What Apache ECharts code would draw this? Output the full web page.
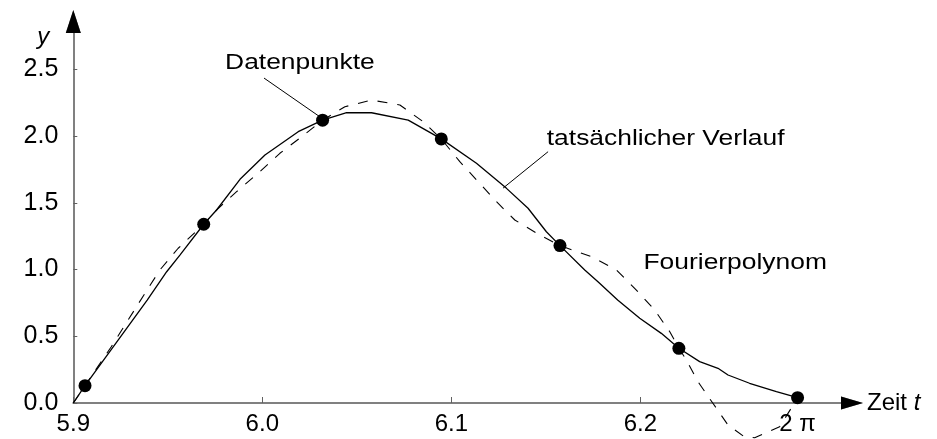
<!DOCTYPE html>
<html><head><meta charset="utf-8">
<script src="https://cdn.jsdelivr.net/npm/echarts@6/dist/echarts.min.js"></script>
<style>html,body{margin:0;padding:0;background:#fff}#c{width:937px;height:439px}</style>
</head><body><div id="c"></div>
<script>
// ---- data ----
const pointT = [5.9062, 5.9690, 6.0319, 6.0947, 6.1575, 6.2204, 6.2832];
const pointY = [0.13, 1.34, 2.12, 1.98, 1.18, 0.41, 0.04];

const actualT = [5.9, 5.9062, 5.9391, 5.9494, 5.9564, 5.9690, 5.9758, 5.9882, 6.0014, 6.0190, 6.0319, 6.0446, 6.0578, 6.0772, 6.0947, 6.1133, 6.1292, 6.1406, 6.1503, 6.1575, 6.1706, 6.1776, 6.1880, 6.1997, 6.2111, 6.2204, 6.2314, 6.2411, 6.2464, 6.2578, 6.2720, 6.2832];
const actualY = [0.0, 0.13, 0.772, 0.984, 1.109, 1.34, 1.447, 1.677, 1.859, 2.034, 2.12, 2.176, 2.176, 2.121, 1.98, 1.797, 1.609, 1.46, 1.284, 1.18, 0.997, 0.909, 0.772, 0.635, 0.522, 0.41, 0.31, 0.26, 0.21, 0.148, 0.085, 0.04];

const fourierT = [5.9, 5.9062, 5.9200, 5.9379, 5.9458, 5.9555, 5.9690, 5.9758, 5.9864, 5.9987, 6.0093, 6.0208, 6.0319, 6.0437, 6.0578, 6.0728, 6.0851, 6.0947, 6.1045, 6.1142, 6.1239, 6.1336, 6.1468, 6.1575, 6.1741, 6.1874, 6.1970, 6.2076, 6.2156, 6.2204, 6.2244, 6.2305, 6.2384, 6.2464, 6.2552, 6.2605, 6.2737, 6.2806, 6.2832];
const fourierY = [0.0, 0.13, 0.42, 0.822, 0.997, 1.16, 1.34, 1.447, 1.584, 1.734, 1.872, 1.996, 2.12, 2.221, 2.271, 2.234, 2.109, 1.98, 1.809, 1.659, 1.509, 1.372, 1.259, 1.18, 1.097, 0.997, 0.86, 0.697, 0.534, 0.41, 0.322, 0.16, -0.002, -0.165, -0.255, -0.26, -0.178, -0.022, 0.04];

const xTickValues = [5.9, 6.0, 6.1, 6.2, 6.2832];
const xTickLabels = ['5.9', '6.0', '6.1', '6.2', '2 π'];
const yTickValues = [0, 0.5, 1.0, 1.5, 2.0, 2.5];
const yTickLabels = ['0.0', '0.5', '1.0', '1.5', '2.0', '2.5'];

const FONT = '"Liberation Sans", Arial, sans-serif';
const chart = echarts.init(document.getElementById('c'), null, {renderer: 'canvas'});

function lookup(vals, labels, v) {
  let best = 0;
  for (let i = 0; i < vals.length; i++) if (Math.abs(vals[i] - v) < Math.abs(vals[best] - v)) best = i;
  return labels[best];
}
const zip = (a, b) => a.map((v, i) => [v, b[i]]);

const X_MIN = 5.9, X_MAX = 6.312, Y_MIN = 0, Y_MAX = 2.86;

chart.setOption({
  animation: false,
  backgroundColor: '#fff',
  grid: {left: 73.3, right: 85, top: 21.5, bottom: 36, containLabel: false},
  xAxis: [{
    type: 'value', min: X_MIN, max: X_MAX,
    splitLine: {show: false},
    axisLine: {show: true, onZero: false, symbol: ['none', 'triangle'], symbolSize: [13, 22],
      lineStyle: {color: '#808080', width: 2}},
    axisTick: {show: true, inside: true, length: 6, customValues: xTickValues, lineStyle: {color: '#606060', width: 1}},
    axisLabel: {show: true, customValues: xTickValues, margin: 9, color: '#000', fontFamily: FONT, fontSize: 24,
      formatter: v => lookup(xTickValues, xTickLabels, v)},
    name: 'Zeit {i|t}', nameLocation: 'end', nameGap: 15,
    nameTextStyle: {color: '#000', fontFamily: FONT, fontSize: 24, verticalAlign: 'middle', align: 'left',
      rich: {i: {fontStyle: 'italic', fontFamily: FONT, fontSize: 24, color: '#000'}}}
  }, {
    type: 'value', min: X_MIN, max: X_MAX, position: 'bottom',
    axisLine: {show: true, onZero: false, symbol: ['none', 'triangle'], symbolSize: [13, 22], lineStyle: {color: '#000', width: 0}},
    axisTick: {show: false}, axisLabel: {show: false}, splitLine: {show: false}
  }],
  yAxis: [{
    type: 'value', min: Y_MIN, max: Y_MAX,
    splitLine: {show: false},
    axisLine: {show: true, onZero: false, symbol: ['none', 'triangle'], symbolSize: [15, 23],
      lineStyle: {color: '#808080', width: 2}},
    axisTick: {show: true, inside: true, length: 4, customValues: yTickValues, lineStyle: {color: '#606060', width: 1}},
    axisLabel: {show: true, customValues: yTickValues, margin: 15, color: '#000', fontFamily: FONT, fontSize: 25,
      formatter: v => lookup(yTickValues, yTickLabels, v)}
  }, {
    type: 'value', min: Y_MIN, max: Y_MAX, position: 'left',
    axisLine: {show: true, onZero: false, symbol: ['none', 'triangle'], symbolSize: [15, 23], lineStyle: {color: '#000', width: 0}},
    axisTick: {show: false}, axisLabel: {show: false}, splitLine: {show: false}
  }],
  series: [{
    name: 'tatsächlicher Verlauf', type: 'line', data: zip(actualT, actualY),
    showSymbol: false, clip: false, smooth: false,
    lineStyle: {color: '#000', width: 1.3}, z: 3
  }, {
    name: 'Fourierpolynom', type: 'line', data: zip(fourierT, fourierY),
    showSymbol: false, clip: false, smooth: false,
    lineStyle: {color: '#000', width: 1.1, type: [10, 10]}, z: 2
  }, {
    name: 'Datenpunkte', type: 'scatter', data: zip(pointT, pointY),
    symbol: 'circle', symbolSize: 13, itemStyle: {color: '#000', opacity: 1}, clip: false, z: 4
  }]
});

// annotations anchored in data coordinates
const P = (t, y) => chart.convertToPixel({xAxisIndex: 0, yAxisIndex: 0}, [t, y]);
const textStyle = (txt, align) => ({text: txt, fill: '#000', font: '22px ' + FONT, textAlign: align || 'center', textVerticalAlign: 'middle'});
const aDat = P(6.0199, 2.549), aDatA = P(6.0009, 2.436), aDatB = P(6.0300, 2.150);
const aVer = P(6.2134, 1.979), aVerA = P(6.1512, 1.884), aVerB = P(6.1274, 1.611);
const aFou = P(6.2502, 1.049);
const aY = P(5.9, 2.74);
chart.setOption({
  graphic: [
    {type: 'text', x: aDat[0], y: aDat[1], scaleX: 1.2, style: textStyle('Datenpunkte')},
    {type: 'line', shape: {x1: aDatA[0], y1: aDatA[1], x2: aDatB[0], y2: aDatB[1]}, style: {stroke: '#000', lineWidth: 1}},
    {type: 'text', x: aVer[0], y: aVer[1], scaleX: 1.2, style: textStyle('tatsächlicher Verlauf')},
    {type: 'line', shape: {x1: aVerA[0], y1: aVerA[1], x2: aVerB[0], y2: aVerB[1]}, style: {stroke: '#000', lineWidth: 1}},
    {type: 'text', x: aFou[0], y: aFou[1], scaleX: 1.2, style: textStyle('Fourierpolynom')},
    {type: 'text', x: aY[0] - 30, y: aY[1], style: {text: 'y', fill: '#000', font: 'italic 24px ' + FONT, textAlign: 'center', textVerticalAlign: 'middle'}}
  ]
});
</script></body></html>
